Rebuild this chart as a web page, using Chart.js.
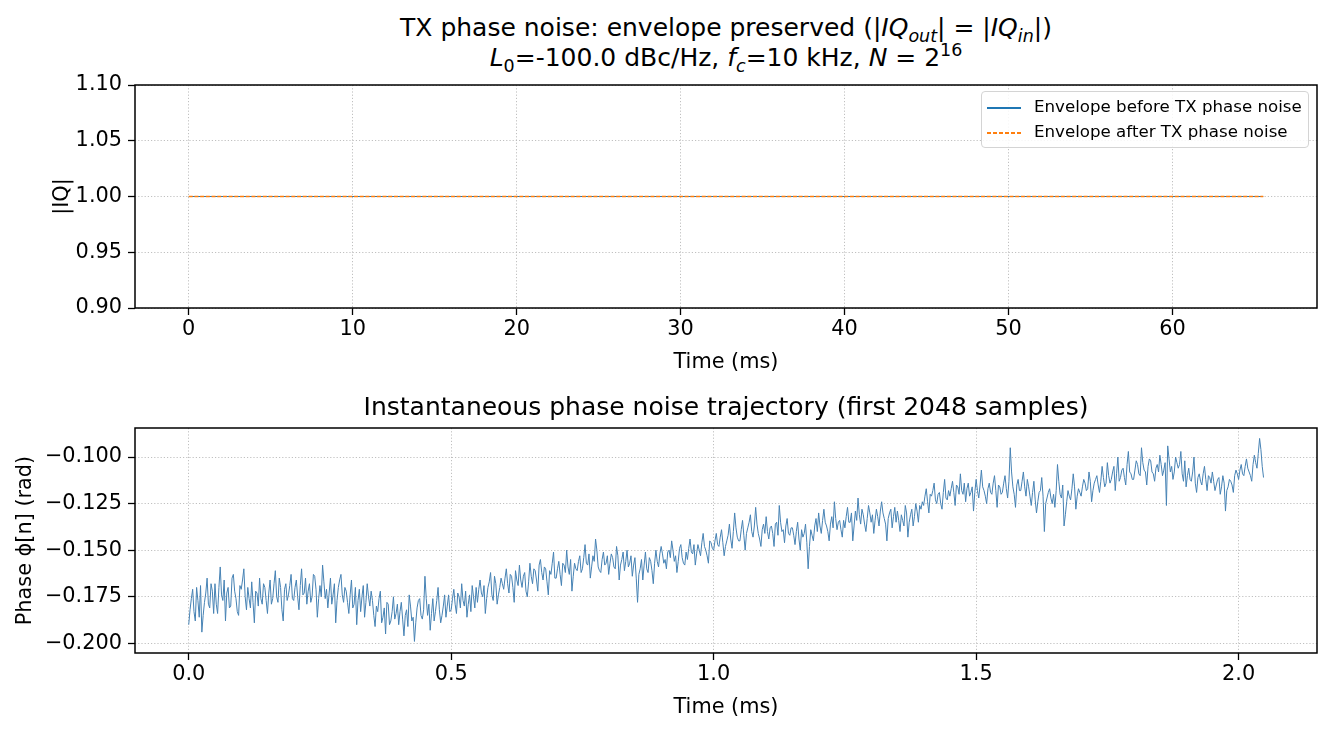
<!DOCTYPE html>
<html>
<head>
<meta charset="utf-8">
<title>TX phase noise</title>
<script src="https://cdn.jsdelivr.net/npm/chart.js@4.4.1/dist/chart.umd.min.js"></script>
<style>
  html, body { margin: 0; padding: 0; background: #fff; }
  #page { position: relative; width: 1333px; height: 734px; overflow: hidden;
          font-family: "DejaVu Sans", sans-serif; color: #000; }
  .suptitle { position: absolute; left: 135px; width: 1182px; text-align: center;
              font-size: 25px; line-height: 30px; white-space: nowrap; }
  .sub { font-size: 70%; position: relative; top: 0.35em; }
  .sup { font-size: 70%; position: relative; top: -0.55em; }
  canvas { position: absolute; left: 0; }
  #legend { position: absolute; left: 981px; top: 91px; width: 326px; height: 55px;
            border: 1px solid #d4d4d4; border-radius: 4px; background: rgba(255,255,255,0.85);
            font-size: 16.67px; }
  #legend .row { position: absolute; left: 5px; height: 20px; line-height: 20px; white-space: nowrap; }
  #legend .swatch { position: absolute; left: 0; top: 10px; width: 34px; height: 1.5px; }
  #legend .text { position: absolute; left: 47px; top: 0; }
</style>
</head>
<body>
<div id="page">
  <div class="suptitle" style="top:13px">TX phase noise: envelope preserved (|<i>IQ</i><span class="sub"><i>out</i></span>| = |<i>IQ</i><span class="sub"><i>in</i></span>|)</div>
  <div class="suptitle" style="top:43px"><i>L</i><span class="sub">0</span>=-100.0 dBc/Hz, <i>f</i><span class="sub"><i>c</i></span>=10 kHz, <i>N</i> = 2<span class="sup">16</span></div>
  <canvas id="envChart" width="1333" height="305" style="top:70px"></canvas>
  <canvas id="phaseChart" width="1333" height="340" style="top:380px"></canvas>
  <div id="legend"></div>
</div>
<script>
// ---- data ----
const envTime = [0, 65.535];           // ms
const envBefore = [1.0, 1.0];
const envAfter = [1.0, 1.0];
const envLabels = ['Envelope before TX phase noise', 'Envelope after TX phase noise'];
const envXTicks = [0, 10, 20, 30, 40, 50, 60];
const envYTicks = [0.90, 0.95, 1.00, 1.05, 1.10];

// phase trajectory, one value every 0.0025 ms
const phaseStepMs = 0.0025;
const phaseNoise = [
  -0.190, -0.182, -0.176, -0.171, -0.183, -0.188, -0.170, -0.177, -0.186, -0.169, -0.194, -0.185, -0.178, -0.173, -0.165, -0.179, -0.181, -0.168, -0.172, -0.184,
  -0.168, -0.179, -0.184, -0.170, -0.159, -0.174, -0.177, -0.166, -0.188, -0.173, -0.170, -0.181, -0.180, -0.165, -0.163, -0.172, -0.176, -0.183, -0.185, -0.169,
  -0.171, -0.166, -0.160, -0.175, -0.182, -0.170, -0.176, -0.181, -0.167, -0.178, -0.189, -0.172, -0.173, -0.180, -0.165, -0.176, -0.179, -0.168, -0.170, -0.177,
  -0.184, -0.173, -0.166, -0.179, -0.176, -0.168, -0.161, -0.175, -0.178, -0.165, -0.170, -0.182, -0.188, -0.171, -0.168, -0.177, -0.174, -0.169, -0.163, -0.176,
  -0.177, -0.170, -0.166, -0.175, -0.182, -0.169, -0.160, -0.174, -0.173, -0.165, -0.179, -0.172, -0.168, -0.178, -0.175, -0.163, -0.164, -0.171, -0.186, -0.176,
  -0.169, -0.175, -0.158, -0.167, -0.176, -0.171, -0.181, -0.173, -0.165, -0.179, -0.174, -0.168, -0.189, -0.177, -0.170, -0.166, -0.163, -0.174, -0.178, -0.170,
  -0.172, -0.178, -0.184, -0.174, -0.166, -0.181, -0.179, -0.170, -0.190, -0.177, -0.171, -0.183, -0.175, -0.169, -0.186, -0.178, -0.168, -0.175, -0.180, -0.172,
  -0.177, -0.185, -0.191, -0.180, -0.183, -0.176, -0.172, -0.189, -0.186, -0.181, -0.195, -0.178, -0.179, -0.190, -0.188, -0.183, -0.175, -0.187, -0.184, -0.179,
  -0.190, -0.183, -0.178, -0.187, -0.196, -0.185, -0.182, -0.191, -0.174, -0.180, -0.188, -0.186, -0.199, -0.189, -0.181, -0.177, -0.176, -0.185, -0.187, -0.182,
  -0.164, -0.176, -0.185, -0.179, -0.193, -0.184, -0.176, -0.188, -0.183, -0.177, -0.170, -0.182, -0.189, -0.185, -0.180, -0.174, -0.186, -0.180, -0.174, -0.183,
  -0.182, -0.176, -0.171, -0.179, -0.184, -0.173, -0.175, -0.181, -0.168, -0.177, -0.180, -0.172, -0.186, -0.179, -0.174, -0.183, -0.169, -0.175, -0.181, -0.170,
  -0.178, -0.171, -0.166, -0.173, -0.175, -0.169, -0.184, -0.176, -0.170, -0.167, -0.162, -0.174, -0.177, -0.164, -0.168, -0.179, -0.174, -0.170, -0.165, -0.168,
  -0.171, -0.165, -0.160, -0.168, -0.173, -0.163, -0.164, -0.170, -0.178, -0.161, -0.166, -0.169, -0.158, -0.166, -0.170, -0.164, -0.162, -0.172, -0.175, -0.167,
  -0.157, -0.164, -0.168, -0.160, -0.161, -0.166, -0.172, -0.158, -0.155, -0.162, -0.166, -0.159, -0.160, -0.167, -0.174, -0.161, -0.163, -0.157, -0.151, -0.165,
  -0.165, -0.160, -0.156, -0.163, -0.169, -0.157, -0.158, -0.162, -0.150, -0.159, -0.163, -0.155, -0.172, -0.164, -0.157, -0.160, -0.161, -0.156, -0.153, -0.162,
  -0.160, -0.154, -0.147, -0.157, -0.158, -0.152, -0.165, -0.159, -0.153, -0.156, -0.144, -0.150, -0.159, -0.161, -0.162, -0.155, -0.151, -0.158, -0.157, -0.153,
  -0.163, -0.157, -0.152, -0.154, -0.159, -0.160, -0.148, -0.153, -0.166, -0.158, -0.155, -0.151, -0.161, -0.156, -0.150, -0.159, -0.157, -0.153, -0.164, -0.158,
  -0.154, -0.165, -0.178, -0.163, -0.160, -0.155, -0.166, -0.158, -0.151, -0.160, -0.162, -0.154, -0.156, -0.161, -0.168, -0.157, -0.150, -0.156, -0.159, -0.152,
  -0.148, -0.152, -0.157, -0.155, -0.160, -0.151, -0.150, -0.154, -0.145, -0.150, -0.156, -0.153, -0.162, -0.156, -0.149, -0.147, -0.154, -0.157, -0.158, -0.151,
  -0.155, -0.149, -0.144, -0.151, -0.152, -0.147, -0.158, -0.152, -0.147, -0.150, -0.153, -0.146, -0.141, -0.148, -0.150, -0.153, -0.157, -0.145, -0.146, -0.149,
  -0.150, -0.145, -0.141, -0.147, -0.148, -0.143, -0.139, -0.146, -0.153, -0.148, -0.145, -0.142, -0.136, -0.144, -0.149, -0.140, -0.130, -0.138, -0.143, -0.145,
  -0.145, -0.139, -0.134, -0.142, -0.150, -0.141, -0.138, -0.135, -0.131, -0.140, -0.143, -0.137, -0.127, -0.136, -0.141, -0.144, -0.148, -0.139, -0.136, -0.141,
  -0.132, -0.140, -0.144, -0.138, -0.137, -0.141, -0.148, -0.136, -0.135, -0.142, -0.126, -0.135, -0.140, -0.139, -0.146, -0.137, -0.133, -0.141, -0.142, -0.138,
  -0.138, -0.142, -0.147, -0.140, -0.135, -0.144, -0.150, -0.139, -0.143, -0.141, -0.136, -0.146, -0.160, -0.148, -0.139, -0.142, -0.145, -0.137, -0.133, -0.140,
  -0.130, -0.137, -0.141, -0.134, -0.128, -0.135, -0.137, -0.140, -0.145, -0.136, -0.132, -0.138, -0.124, -0.133, -0.139, -0.135, -0.134, -0.139, -0.143, -0.134,
  -0.138, -0.132, -0.127, -0.135, -0.135, -0.130, -0.145, -0.137, -0.129, -0.134, -0.122, -0.131, -0.136, -0.128, -0.131, -0.136, -0.140, -0.133, -0.126, -0.130,
  -0.135, -0.131, -0.141, -0.134, -0.128, -0.132, -0.137, -0.129, -0.124, -0.130, -0.133, -0.136, -0.145, -0.133, -0.130, -0.128, -0.138, -0.132, -0.127, -0.135,
  -0.129, -0.134, -0.140, -0.131, -0.134, -0.137, -0.126, -0.130, -0.143, -0.135, -0.131, -0.128, -0.137, -0.132, -0.125, -0.129, -0.135, -0.126, -0.128, -0.124,
  -0.126, -0.121, -0.117, -0.124, -0.130, -0.120, -0.121, -0.118, -0.114, -0.123, -0.125, -0.120, -0.119, -0.125, -0.128, -0.119, -0.112, -0.122, -0.123, -0.118,
  -0.121, -0.117, -0.113, -0.119, -0.126, -0.115, -0.116, -0.120, -0.109, -0.118, -0.120, -0.114, -0.124, -0.117, -0.114, -0.121, -0.119, -0.116, -0.129, -0.119,
  -0.112, -0.118, -0.122, -0.115, -0.107, -0.116, -0.118, -0.121, -0.125, -0.117, -0.114, -0.119, -0.120, -0.114, -0.110, -0.118, -0.127, -0.115, -0.116, -0.120,
  -0.119, -0.114, -0.110, -0.117, -0.122, -0.113, -0.095, -0.108, -0.116, -0.120, -0.127, -0.115, -0.112, -0.118, -0.118, -0.113, -0.108, -0.116, -0.121, -0.112,
  -0.116, -0.121, -0.126, -0.119, -0.113, -0.123, -0.130, -0.124, -0.119, -0.118, -0.111, -0.121, -0.140, -0.125, -0.122, -0.119, -0.117, -0.122, -0.125, -0.120,
  -0.127, -0.118, -0.104, -0.113, -0.120, -0.122, -0.115, -0.137, -0.131, -0.124, -0.118, -0.121, -0.123, -0.117, -0.109, -0.116, -0.128, -0.121, -0.117, -0.119,
  -0.121, -0.116, -0.112, -0.114, -0.118, -0.117, -0.108, -0.113, -0.124, -0.118, -0.114, -0.112, -0.110, -0.115, -0.119, -0.113, -0.105, -0.111, -0.116, -0.114,
  -0.103, -0.110, -0.114, -0.112, -0.108, -0.105, -0.118, -0.109, -0.100, -0.113, -0.111, -0.107, -0.106, -0.111, -0.115, -0.104, -0.097, -0.108, -0.109, -0.112,
  -0.112, -0.107, -0.102, -0.104, -0.109, -0.110, -0.095, -0.103, -0.107, -0.108, -0.115, -0.105, -0.101, -0.102, -0.108, -0.109, -0.113, -0.106, -0.104, -0.108,
  -0.099, -0.104, -0.110, -0.107, -0.103, -0.126, -0.094, -0.101, -0.108, -0.105, -0.112, -0.108, -0.100, -0.103, -0.106, -0.104, -0.097, -0.109, -0.113, -0.102,
  -0.116, -0.110, -0.106, -0.112, -0.113, -0.108, -0.100, -0.114, -0.119, -0.111, -0.109, -0.113, -0.115, -0.109, -0.105, -0.112, -0.118, -0.110, -0.111, -0.114,
  -0.108, -0.113, -0.118, -0.115, -0.112, -0.111, -0.120, -0.116, -0.110, -0.114, -0.129, -0.118, -0.116, -0.112, -0.113, -0.115, -0.119, -0.110, -0.107, -0.109,
  -0.112, -0.107, -0.104, -0.109, -0.110, -0.105, -0.101, -0.106, -0.108, -0.110, -0.113, -0.104, -0.099, -0.103, -0.106, -0.098, -0.090, -0.096, -0.105, -0.111
];
const phaseXTicks = [0, 0.5, 1.0, 1.5, 2.0];
const phaseYTicks = [-0.200, -0.175, -0.150, -0.125, -0.100];

// ---- shared styling ----
const FONT = 'DejaVu Sans';
const tickFont = { family: FONT, size: 20.83 };
const labelFont = { family: FONT, size: 20.83 };

// black box around the axes (matplotlib spines)
const framePlugin = {
  id: 'frame',
  afterDraw(chart) {
    const { ctx, chartArea: a } = chart;
    ctx.save();
    ctx.strokeStyle = '#000';
    ctx.lineWidth = 1.5;
    ctx.strokeRect(a.left, a.top, a.right - a.left, a.bottom - a.top);
    ctx.restore();
  }
};

function axis(opts) {
  const horizontal = opts.horizontal;
  return {
    type: 'linear',
    min: opts.min,
    max: opts.max,
    afterBuildTicks: s => { s.ticks = opts.ticks.map(v => ({ value: v })); },
    afterFit: s => {
      if (horizontal) { s.height = 67; s.paddingLeft = 0; s.paddingRight = 0; }
      else { s.width = 135; s.paddingTop = 0; s.paddingBottom = 0; }
    },
    grid: { color: '#b0b0b0', lineWidth: 0.8, tickColor: '#000', tickLength: 7, tickWidth: 1.3 },
    border: { display: false, dash: [1.2, 2] },
    ticks: { font: tickFont, color: '#000', padding: horizontal ? 2 : 6, maxRotation: 0,
             autoSkip: false, callback: opts.format },
    title: { display: true, text: opts.title, font: labelFont, color: '#000', padding: opts.titlePad }
  };
}

function points(xs, ys) {
  return xs.map((x, i) => ({ x: x, y: ys[i] }));
}

// ---- top: envelope ----
// order: the dashed "after" line is drawn over the solid "before" line
const envChart = new Chart(document.getElementById('envChart'), {
  type: 'line',
  data: {
    datasets: [
      { label: envLabels[0], data: points(envTime, envBefore), borderColor: '#1f77b4',
        borderWidth: 1.2, pointRadius: 0, tension: 0, order: 1 },
      { label: envLabels[1], data: points(envTime, envAfter), borderColor: '#ff7f0e',
        borderWidth: 1.3, borderDash: [4, 1.7], pointRadius: 0, tension: 0, order: 0 }
    ]
  },
  options: {
    responsive: false,
    animation: false,
    layout: { padding: { top: 15, right: 16, left: 0, bottom: 0 } },
    plugins: { legend: { display: false }, tooltip: { enabled: false } },
    scales: {
      x: axis({ horizontal: true, min: -3.2768, max: 68.8128, ticks: envXTicks,
                format: v => String(v), title: 'Time (ms)', titlePad: { top: 0, bottom: 0 } }),
      y: axis({ horizontal: false, min: 0.90, max: 1.10, ticks: envYTicks,
                format: v => v.toFixed(2), title: '|IQ|', titlePad: { top: 50, bottom: 0 } })
    }
  },
  plugins: [framePlugin]
});

// legend built from the dataset styles
const legendBox = document.getElementById('legend');
envChart.data.datasets.forEach((ds, i) => {
  const row = document.createElement('div');
  row.className = 'row';
  row.style.top = (5 + i * 25) + 'px';
  const sw = document.createElement('span');
  sw.className = 'swatch';
  sw.style.background = ds.borderDash
    ? 'repeating-linear-gradient(to right, ' + ds.borderColor + ' 0 4px, transparent 4px 6px)'
    : ds.borderColor;
  const txt = document.createElement('span');
  txt.className = 'text';
  txt.textContent = ds.label;
  row.appendChild(sw);
  row.appendChild(txt);
  legendBox.appendChild(row);
});

// ---- bottom: phase trajectory ----
const phaseTime = phaseNoise.map((_, i) => i * phaseStepMs);
const fmtNeg = v => (v < 0 ? '\u2212' : '') + Math.abs(v).toFixed(3);

new Chart(document.getElementById('phaseChart'), {
  type: 'line',
  data: {
    datasets: [
      { label: 'phase', data: points(phaseTime, phaseNoise), borderColor: '#4682b4',
        borderWidth: 1, pointRadius: 0, tension: 0 }
    ]
  },
  options: {
    responsive: false,
    animation: false,
    layout: { padding: { top: 0, right: 16, left: 0, bottom: 0 } },
    plugins: {
      legend: { display: false },
      tooltip: { enabled: false },
      title: { display: true, fullSize: false, text: 'Instantaneous phase noise trajectory (first 2048 samples)',
               font: { family: FONT, size: 25, weight: 'normal' }, color: '#000',
               padding: { top: 13, bottom: 5 } }
    },
    scales: {
      x: axis({ horizontal: true, min: -0.10235, max: 2.14935, ticks: phaseXTicks,
                format: v => v.toFixed(1), title: 'Time (ms)', titlePad: { top: 0, bottom: 0 } }),
      y: axis({ horizontal: false, min: -0.2052, max: -0.0844, ticks: phaseYTicks,
                format: fmtNeg, title: 'Phase \u03d5[n] (rad)', titlePad: { top: 13, bottom: 0 } })
    }
  },
  plugins: [framePlugin]
});
</script>
</body>
</html>
